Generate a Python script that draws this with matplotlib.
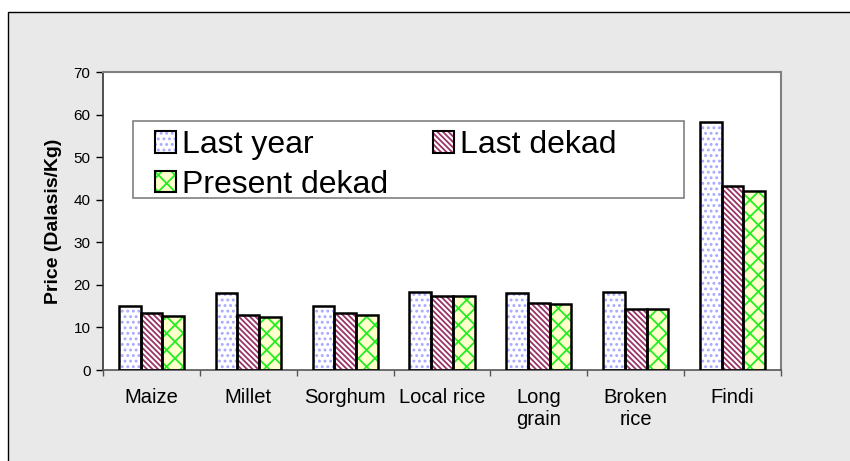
import matplotlib
matplotlib.use("Agg")
import matplotlib.pyplot as plt
from matplotlib.patches import Rectangle, Patch
from matplotlib.legend_handler import HandlerTuple
import numpy as np

plt.rcParams['font.family'] = ['Liberation Sans', 'DejaVu Sans']
plt.rcParams['hatch.linewidth'] = 1.3

categories = ["Maize", "Millet", "Sorghum", "Local rice", "Long\ngrain", "Broken\nrice", "Findi"]
series_names = ["Last year", "Last dekad", "Present dekad"]
last_year = [15.0, 18.1, 15.0, 18.4, 18.0, 18.3, 58.3]
last_dekad = [13.5, 12.9, 13.4, 17.4, 15.7, 14.4, 43.3]
present_dekad = [12.8, 12.5, 12.9, 17.4, 15.4, 14.4, 42.0]
yticks = [0, 10, 20, 30, 40, 50, 60, 70]

styles = [
    dict(face="white", hatch="...", hcolor="#a8a8ff"),
    dict(face="white", hatch="\\" * 6, hcolor="#993366"),
    dict(face="#ffffcc", hatch="xx", hcolor="#22ee22"),
]

fig = plt.figure(figsize=(8.5, 4.61), dpi=100, facecolor="white")
fig.patches.append(Rectangle((8/850, -0.1), 1.2, 1 - 12/461 + 0.1, transform=fig.transFigure,
                             facecolor="#e9e9e9", edgecolor="black", linewidth=1.0, zorder=-10))

ax = fig.add_axes([103/850, 1 - 370/461, (781 - 103)/850, (370 - 72)/461])
ax.set_facecolor("white")

x = np.arange(len(categories))
w = 0.224
handles = []
for i, (vals, st) in enumerate(zip([last_year, last_dekad, present_dekad], styles)):
    pos = x + (i - 1) * w
    ax.bar(pos, vals, w, facecolor=st["face"], edgecolor=st["hcolor"], hatch=st["hatch"],
           linewidth=0, zorder=2)
    ax.bar(pos, vals, w, facecolor="none", edgecolor="black", linewidth=1.8, zorder=3)
    h1 = Patch(facecolor=st["face"], edgecolor=st["hcolor"], hatch=st["hatch"], linewidth=0)
    h2 = Patch(facecolor="none", edgecolor="black", linewidth=1.5)
    handles.append((h1, h2))

ax.set_xlim(-0.5, len(categories) - 0.5)
ax.set_ylim(0, 70)
ax.set_yticks(yticks)
ax.set_yticklabels([str(t) for t in yticks], fontsize=11)
ax.tick_params(axis="y", direction="out", length=5, width=1, pad=4, colors="black")

ax.set_xticks(np.arange(-0.5, len(categories)), minor=False)
ax.set_xticklabels([])
ax.set_xticks(x, minor=True)
ax.set_xticklabels(categories, minor=True, fontsize=14.5)
ax.tick_params(axis="x", which="major", direction="out", length=4, width=1, color="#555555")
ax.tick_params(axis="x", which="minor", length=0, pad=13)

ax.set_ylabel("Price (Dalasis/Kg)", fontsize=14, fontweight="bold", labelpad=8)

for s in ["top", "right"]:
    ax.spines[s].set_color("#808080")
    ax.spines[s].set_linewidth(1.5)
ax.spines["left"].set_color("#333333")
ax.spines["bottom"].set_color("#555555")
ax.spines["left"].set_linewidth(1.2)
ax.spines["bottom"].set_linewidth(1.2)

# legend frame
lx0 = (133 - 103) / 678
lx1 = (684 - 103) / 678
ly0 = (370 - 198) / 298
ly1 = (370 - 121) / 298
ax.add_patch(Rectangle((lx0, ly0), lx1 - lx0, ly1 - ly0, transform=ax.transAxes,
                       facecolor="white", edgecolor="#808080", linewidth=1.2, zorder=5))

order = [0, 2, 1]
leg = ax.legend([handles[k] for k in order], [series_names[k] for k in order],
                handler_map={tuple: HandlerTuple(ndivide=1, pad=0)},
                loc="upper left", bbox_to_anchor=((155 - 103) / 678, (370 - 130) / 298),
                ncol=2, frameon=False, fontsize=23, borderpad=0, borderaxespad=0,
                handlelength=0.66, handleheight=0.66, handletextpad=0.2,
                columnspacing=1.38, labelspacing=0.3)
leg.set_zorder(6)

fig.savefig("out.png", dpi=100, facecolor=fig.get_facecolor())
